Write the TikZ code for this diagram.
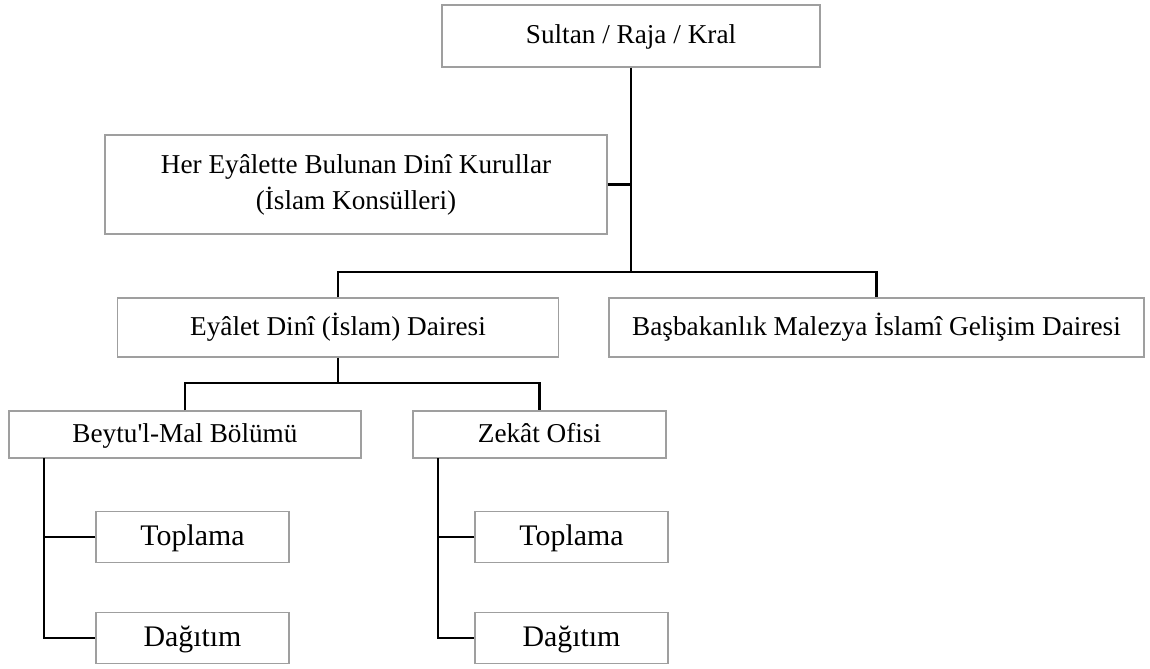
\documentclass[tikz,border=0pt]{standalone}
\usepackage{fontspec}
\setmainfont{Liberation Serif}
\usetikzlibrary{calc}

\tikzset{
  box/.style={draw=gray!75, line width=0.7pt, inner sep=0pt, align=center,
    font=\fontsize{15.5}{20.5}\selectfont},
  linebox/.style={box, text height=12pt, text depth=3pt},
  smallbox/.style={linebox, font=\fontsize{17}{20}\selectfont, text height=13pt, text depth=3.5pt},
  link/.style={line width=1.5pt, black}
}

\begin{document}
\begin{tikzpicture}[x=0.02cm, y=-0.02cm]
  \useasboundingbox (0,0) rectangle (1150,669);

  \node[linebox, minimum width=7.56cm, minimum height=1.24cm] (sultan) at (631,36) {Sultan / Raja / Kral};
  \node[box, minimum width=10.04cm, minimum height=1.98cm] (kurul) at (356,184.5)
    {Her Eyâlette Bulunan Dinî Kurullar\\(İslam Konsülleri)};
  \node[linebox, minimum width=8.82cm, minimum height=1.18cm] (eyalet) at (338,327.5) {Eyâlet Dinî (İslam) Dairesi};
  \node[linebox, minimum width=10.7cm, minimum height=1.18cm] (basbakan) at (876.5,327.5) {Başbakanlık Malezya İslamî Gelişim Dairesi};
  \node[linebox, minimum width=7.04cm, minimum height=0.94cm] (beytu) at (185,434.5) {Beytu\textquotesingle l-Mal Bölümü};
  \node[linebox, minimum width=5.06cm, minimum height=0.94cm] (zekat) at (539.5,434.5) {Zekât Ofisi};
  \node[smallbox, minimum width=3.86cm, minimum height=1.02cm] (toplamaA) at (192.5,537) {Toplama};
  \node[smallbox, minimum width=3.86cm, minimum height=1.02cm] (dagitimA) at (192.5,638) {Dağıtım};
  \node[smallbox, minimum width=3.86cm, minimum height=1.02cm] (toplamaB) at (571.5,537) {Toplama};
  \node[smallbox, minimum width=3.86cm, minimum height=1.02cm] (dagitimB) at (571.5,638) {Dağıtım};

  \coordinate (j1) at (631,272);
  \coordinate (j2) at (338,383);
  \coordinate (ba) at (44,458);
  \coordinate (zb) at (438,458);

  % top level
  \draw[link] (sultan.south) -- (j1);
  \draw[link] (kurul.east) -- (kurul.east -| j1);
  \draw[link] (eyalet.north) |- (j1) -| (basbakan.north);
  % eyalet branch
  \draw[link] (eyalet.south) -- (j2);
  \draw[link] (beytu.north) |- (j2) -| (zekat.north);
  % left leg
  \draw[link] (ba) |- (dagitimA.west);
  \draw[link] (toplamaA.west) -- (toplamaA.west -| ba);
  % right leg
  \draw[link] (zb) |- (dagitimB.west);
  \draw[link] (toplamaB.west) -- (toplamaB.west -| zb);
\end{tikzpicture}
\end{document}
